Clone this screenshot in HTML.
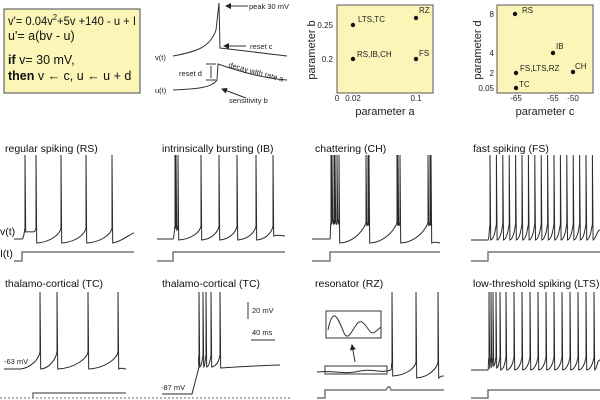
<!DOCTYPE html>
<html><head><meta charset="utf-8"><style>
html,body{margin:0;padding:0;background:#fff;}
svg{display:block;font-family:"Liberation Sans",sans-serif;}
</style></head><body>
<svg id="s" width="600" height="400" viewBox="0 0 600 400" xmlns="http://www.w3.org/2000/svg">
<defs><marker id="ah" markerWidth="6" markerHeight="6" refX="5" refY="3" orient="auto"><path d="M0,0 L6,3 L0,6 z" fill="#222"/></marker></defs>
<!-- equation box -->
<rect x="4" y="9" width="136" height="84" fill="#fbf6b8" stroke="#666" stroke-width="1.2"/>
<text x="8" y="25" font-size="12" fill="#111" textLength="128" lengthAdjust="spacingAndGlyphs">v'= 0.04v<tspan dy="-5" font-size="8">2</tspan><tspan dy="5">+5v +140 - u + I</tspan></text>
<text x="8" y="40" font-size="12.5" fill="#111">u'= a(bv - u)</text>
<text x="8" y="64" font-size="12.5" fill="#111"><tspan font-weight="bold">if</tspan> v= 30 mV,</text>
<text x="8" y="80" font-size="12.5" fill="#111"><tspan font-weight="bold">then</tspan> v ← c,   u ← u + d</text>
<!-- schematic -->
<g fill="none" stroke="#333" stroke-width="1">
<path d="M173,56 C195,52 210,48 216,30 L219,3 L220,48 L287,56"/>
<path d="M173,90 C195,89 212,88 217,80 L218,64 C235,70 260,78 287,80"/>
<line x1="248" y1="6" x2="226" y2="6" marker-end="url(#ah)"/>
<line x1="246" y1="46" x2="224" y2="46" marker-end="url(#ah)"/>
<line x1="246" y1="98" x2="222" y2="89" marker-end="url(#ah)"/>
<line x1="206" y1="64" x2="216" y2="64"/><line x1="206" y1="80" x2="216" y2="80"/>
<line x1="211" y1="66" x2="211" y2="78"/>
</g>
<g font-size="7.5" fill="#222">
<text x="249" y="9">peak 30 mV</text>
<text x="250" y="49">reset  c</text>
<text x="155" y="60">v(t)</text>
<text x="155" y="93">u(t)</text>
<text x="179" y="76">reset  d</text>
<text x="229" y="103">sensitivity  b</text>
<text x="228" y="67" transform="rotate(15 228 67)">decay with  rate  a</text>
</g>
<!-- param boxes -->
<rect x="337" y="5" width="96" height="88" fill="#fbf6b8" stroke="#555"/>
<rect x="497" y="5" width="96" height="88" fill="#fbf6b8" stroke="#555"/>
<g font-size="8" fill="#222">
<text x="333" y="28" text-anchor="end">0.25</text>
<text x="333" y="62" text-anchor="end">0.2</text>
<text x="337" y="101" text-anchor="middle">0</text>
<text x="353" y="101" text-anchor="middle">0.02</text>
<text x="416" y="101" text-anchor="middle">0.1</text>
<text x="358" y="22">LTS,TC</text><text x="419" y="13">RZ</text>
<text x="357" y="57">RS,IB,CH</text><text x="419" y="56">FS</text>
<text x="494" y="17" text-anchor="end">8</text>
<text x="494" y="56" text-anchor="end">4</text>
<text x="494" y="76" text-anchor="end">2</text>
<text x="494" y="91" text-anchor="end">0.05</text>
<text x="516" y="101" text-anchor="middle">-65</text>
<text x="553" y="101" text-anchor="middle">-55</text>
<text x="573" y="101" text-anchor="middle">-50</text>
<text x="522" y="13">RS</text><text x="556" y="49">IB</text><text x="575" y="69">CH</text>
<text x="520" y="71">FS,LTS,RZ</text><text x="519" y="87">TC</text>
</g>
<g font-size="11" fill="#222">
<text x="385" y="115" text-anchor="middle">parameter a</text>
<text transform="translate(315 50) rotate(-90)" text-anchor="middle">parameter b</text>
<text x="545" y="115" text-anchor="middle">parameter c</text>
<text transform="translate(481 50) rotate(-90)" text-anchor="middle">parameter d</text>
</g>
<g fill="#111">
<circle cx="353" cy="25" r="2.2"/><circle cx="416" cy="18" r="2.2"/><circle cx="353" cy="59" r="2.2"/><circle cx="416" cy="59" r="2.2"/>
<circle cx="515" cy="14" r="2.2"/><circle cx="553" cy="53" r="2.2"/><circle cx="573" cy="72" r="2.2"/><circle cx="516" cy="73" r="2.2"/><circle cx="516" cy="88" r="2.2"/>
</g>
<!-- panel titles -->
<g font-size="10.5" fill="#111">
<text x="5" y="152">regular spiking (RS)</text>
<text x="162" y="152">intrinsically bursting (IB)</text>
<text x="315" y="152">chattering (CH)</text>
<text x="473" y="152">fast spiking (FS)</text>
<text x="5" y="287">thalamo-cortical (TC)</text>
<text x="162" y="287">thalamo-cortical (TC)</text>
<text x="315" y="287">resonator (RZ)</text>
<text x="473" y="287">low-threshold spiking (LTS)</text>
<text x="0" y="235">v(t)</text>
<text x="0" y="257">I(t)</text>
</g>
<g font-size="7.5" fill="#222">
<text x="4" y="364">-63 mV</text>
<text x="161" y="390">-87 mV</text>
<text x="252" y="313">20 mV</text>
<text x="252" y="335">40 ms</text>
</g>
<g stroke="#333" fill="none">
<line x1="248" y1="302" x2="248" y2="319"/>
<line x1="251" y1="340" x2="275" y2="340"/>
<line x1="0" y1="398" x2="290" y2="398" stroke-dasharray="2,2" stroke-width="0.8"/>
<rect x="326" y="311" width="55" height="27"/>
<path d="M328,330 C333,305 338,318 344,333 C350,345 355,318 362,322 C368,326 370,336 375,332 L381,327"/>
<rect x="325" y="366" width="62" height="8"/>
<line x1="355" y1="362" x2="352" y2="345" marker-end="url(#ah)"/>
</g>
<g id="tr" fill="none" stroke="#2a2a2a" stroke-width="1"></g>
<g id="st" fill="none" stroke="#777" stroke-width="1.5"></g>
</svg>
<script>
var NS="http://www.w3.org/2000/svg";
function add(g,d){var p=document.createElementNS(NS,"path");p.setAttribute("d",d);document.getElementById(g).appendChild(p);}
function train(x0,x1,rest,on,sp,pre,top,tail){
 var d="M"+x0+","+rest+" L"+on+","+rest;
 var px=on,py=rest;
 for(var i=0;i<sp.length;i++){
  var sx=sp[i][0],ry=sp[i][1];var dx=sx-px;
  d+=" C"+(px+dx*0.6)+","+(py-1)+" "+(sx-1)+","+(pre+6)+" "+sx+","+pre+" L"+sx+","+top+" L"+(sx+0.7)+","+ry;
  px=sx+0.7;py=ry;
 }
 d+=" C"+(px+(x1-px)*0.5)+","+(py-2)+" "+(x1-3)+","+tail+" "+x1+","+tail;
 add("tr",d);
}
function step(x0,x1,lo,hi,on){add("st","M"+x0+","+lo+" L"+on+","+lo+" L"+on+","+hi+" L"+x1+","+hi);}
train(14,134,239,22,[[25,232],[36,243],[61,243],[86,243],[112,243]],228,155,233);
step(14,134,261,252,22);
train(157,285,239,173,[[175,225],[176,230],[178,240],[201,240],[219,240],[237,240],[256,240],[273,236]],226,155,236);
step(157,285,261,252,173);
train(312,440,239,330,[[331,220],[332,220],[334,220],[335,222],[337,220],[339,243],[366,225],[368,225],[369,243],[397,225],[398,225],[400,243],[428,225],[430,225],[431,243]],222,155,243);
step(312,440,261,252,330);
var fs=[];for(var x=490;x<=596;x+=6.4)fs.push([x,240]);
train(471,600,240,488,fs,224,155,230);
step(471,600,261,252,488);
train(4,126,369,20,[[40,369],[57,369],[88,369],[118,369]],352,292,369);
add("tr","M162,394 L192,394 L199,367");
train(199,280,367,199,[[199,367],[203,367],[206,367],[211,367],[220,368]],355,292,365);
add("st","M33,398 L33,393 L126,393");
add("tr","M317,372 C335,370 345,375 360,371 C372,368 380,374 391,370");
train(391,444,370,391,[[392,376],[416,378],[438,378]],362,292,376);
add("st","M317,398 L325,398 L325,390 L386,390 L388,387 L390,387 L391,390 L444,390");
var l=[[489,368],[491,367],[493,366],[496,368],[500,370]];for(var x=506;x<=597;x+=8)l.push([x,370]);
train(471,600,370,488,l,357,292,360);
step(471,600,398,390,488);
</script>
</body></html>
